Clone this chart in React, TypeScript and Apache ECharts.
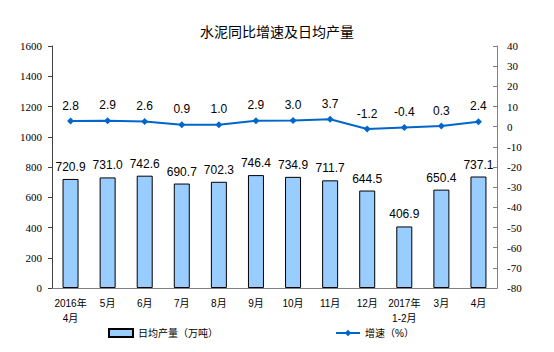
import React, { useEffect, useRef } from "react";
import * as echarts from "echarts";

const categories = ["2016年\n4月", "5月", "6月", "7月", "8月", "9月", "10月", "11月", "12月", "2017年\n1-2月", "3月", "4月"];
const output = [720.9, 731.0, 742.6, 690.7, 702.3, 746.4, 734.9, 711.7, 644.5, 406.9, 650.4, 737.1];
const growth = [2.8, 2.9, 2.6, 0.9, 1.0, 2.9, 3.0, 3.7, -1.2, -0.4, 0.3, 2.4];

export default function App() {
  const ref = useRef<HTMLDivElement>(null);
  useEffect(() => {
    if (!ref.current) return;
    const chart = echarts.init(ref.current, null, { renderer: "svg" });
    const sans = "Arial, 'Liberation Sans', 'Noto Sans CJK SC', sans-serif";
    const serif = "'Liberation Serif', 'Times New Roman', serif";
    chart.setOption({
      animation: false,
      backgroundColor: "#ffffff",
      title: {
        text: "水泥同比增速及日均产量",
        left: "center",
        top: 20,
        textStyle: { fontSize: 14, fontWeight: "normal", color: "#000", fontFamily: sans },
      },
      legend: {
        bottom: 9,
        left: 103,
        itemGap: 117,
        itemWidth: 24,
        itemHeight: 8,
        textStyle: { fontSize: 10, color: "#000", fontFamily: sans },
        data: [
          { name: "日均产量（万吨）", icon: "rect" },
          { name: "增速（%）" },
        ],
      },
      grid: { left: 52, right: 57, top: 46, bottom: 64 },
      xAxis: {
        type: "category",
        data: categories,
        axisLine: { lineStyle: { color: "#808080" } },
        axisTick: { inside: true, length: 3, lineStyle: { color: "#808080" } },
        axisLabel: { interval: 0, fontSize: 10, color: "#000", fontFamily: sans, lineHeight: 15, margin: 8 },
      },
      yAxis: [
        {
          type: "value",
          min: 0,
          max: 1600,
          interval: 200,
          splitLine: { show: false },
          axisLine: { show: true, lineStyle: { color: "#404040" } },
          axisTick: { show: true, length: 4, lineStyle: { color: "#404040" } },
          axisLabel: { fontSize: 11, color: "#000", fontFamily: serif, margin: 10, formatter: (v: number) => String(v) },
        },
        {
          type: "value",
          min: -80,
          max: 40,
          interval: 10,
          splitLine: { show: false },
          axisLine: { show: true, lineStyle: { color: "#808080" } },
          axisTick: { show: true, inside: true, length: 4, lineStyle: { color: "#808080" } },
          axisLabel: { fontSize: 11, color: "#000", fontFamily: serif, margin: 10 },
        },
      ],
      series: [
        {
          name: "日均产量（万吨）",
          type: "bar",
          data: output,
          barWidth: 16,
          itemStyle: { color: "#99CCFF", borderColor: "#000", borderWidth: 1 },
          label: {
            show: true,
            position: "top",
            distance: 6,
            fontSize: 12,
            color: "#000",
            fontFamily: sans,
            formatter: (p: any) => Number(p.value).toFixed(1),
          },
        },
        {
          name: "增速（%）",
          type: "line",
          yAxisIndex: 1,
          data: growth,
          symbol: "diamond",
          symbolSize: 7,
          lineStyle: { color: "#0066CC", width: 2 },
          itemStyle: { color: "#0066CC" },
          label: {
            show: true,
            position: "top",
            distance: 6,
            fontSize: 12,
            color: "#000",
            fontFamily: sans,
            formatter: (p: any) => Number(p.value).toFixed(1),
          },
        },
      ],
    });
    return () => chart.dispose();
  }, []);
  return <div ref={ref} style={{ position: "fixed", left: 0, top: 0, width: 554, height: 352 }} />;
}
